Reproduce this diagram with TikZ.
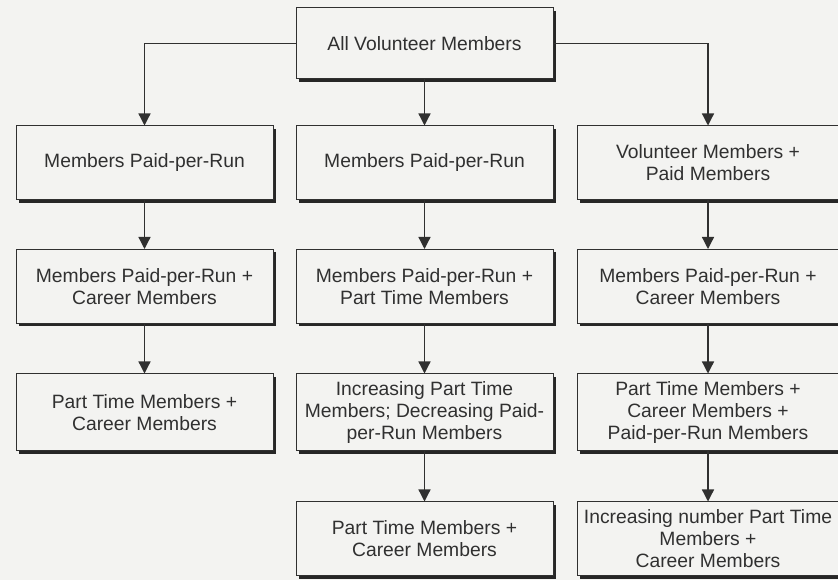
\documentclass[tikz,border=0pt]{standalone}
\usepackage{fontspec}
\setmainfont{Liberation Sans}
\usepackage{xcolor}
\usetikzlibrary{arrows.meta,shadows,positioning}
\definecolor{fondo}{HTML}{F3F3F1}
\definecolor{tinta}{HTML}{303030}
\tikzset{
  caja/.style={draw=tinta,line width=1pt,fill=fondo,text=tinta,align=center,
    minimum width=257pt,minimum height=74pt,inner sep=2pt,
    font=\fontsize{19.3}{22}\selectfont,
    drop shadow={shadow xshift=3pt,shadow yshift=-3pt,fill=black!85,opacity=1}},
  flecha/.style={-{Triangle[width=12pt,length=12pt]},draw=tinta,line width=1.3pt}
}
\begin{document}
\begin{tikzpicture}[x=1pt,y=1pt]
\fill[fondo] (0,0) rectangle (838,580);
\useasboundingbox (0,0) rectangle (838,580);
\node[caja,minimum height=71pt] (todos) at (424.5,536.5) {All Volunteer Members};
\node[caja] (izq1) at (144.5,417) {Members Paid-per-Run};
\node[caja] (med1) at (424.5,417) {Members Paid-per-Run};
\node[caja,minimum width=262pt] (der1) at (708,417) {Volunteer Members +\\Paid Members};
\node[caja] (izq2) at (144.5,293.5) {Members Paid-per-Run +\\Career Members};
\node[caja] (med2) at (424.5,293.5) {Members Paid-per-Run +\\Part Time Members};
\node[caja,minimum width=262pt] (der2) at (708,293.5) {Members Paid-per-Run +\\Career Members};
\node[caja,minimum height=77pt] (izq3) at (144.5,167.5) {Part Time Members +\\Career Members};
\node[caja,minimum height=77pt] (med3) at (424.5,167.5) {Increasing Part Time\\Members; Decreasing Paid-\\per-Run Members};
\node[caja,minimum height=77pt,minimum width=262pt] (der3) at (708,167.5) {Part Time Members +\\Career Members +\\Paid-per-Run Members};
\node[caja] (med4) at (424.5,41) {Part Time Members +\\Career Members};
\node[caja,minimum width=262pt] (der4) at (708,41) {Increasing number Part Time\\Members +\\Career Members};
\draw[flecha] (todos.west) -| (izq1.north);
\draw[flecha] (todos.east) -| (der1.north);
\draw[flecha] (todos) -- (med1);
\draw[flecha] (izq1) -- (izq2);
\draw[flecha] (izq2) -- (izq3);
\draw[flecha] (med1) -- (med2);
\draw[flecha] (med2) -- (med3);
\draw[flecha] (med3) -- (med4);
\draw[flecha] (der1) -- (der2);
\draw[flecha] (der2) -- (der3);
\draw[flecha] (der3) -- (der4);
\end{tikzpicture}
\end{document}
